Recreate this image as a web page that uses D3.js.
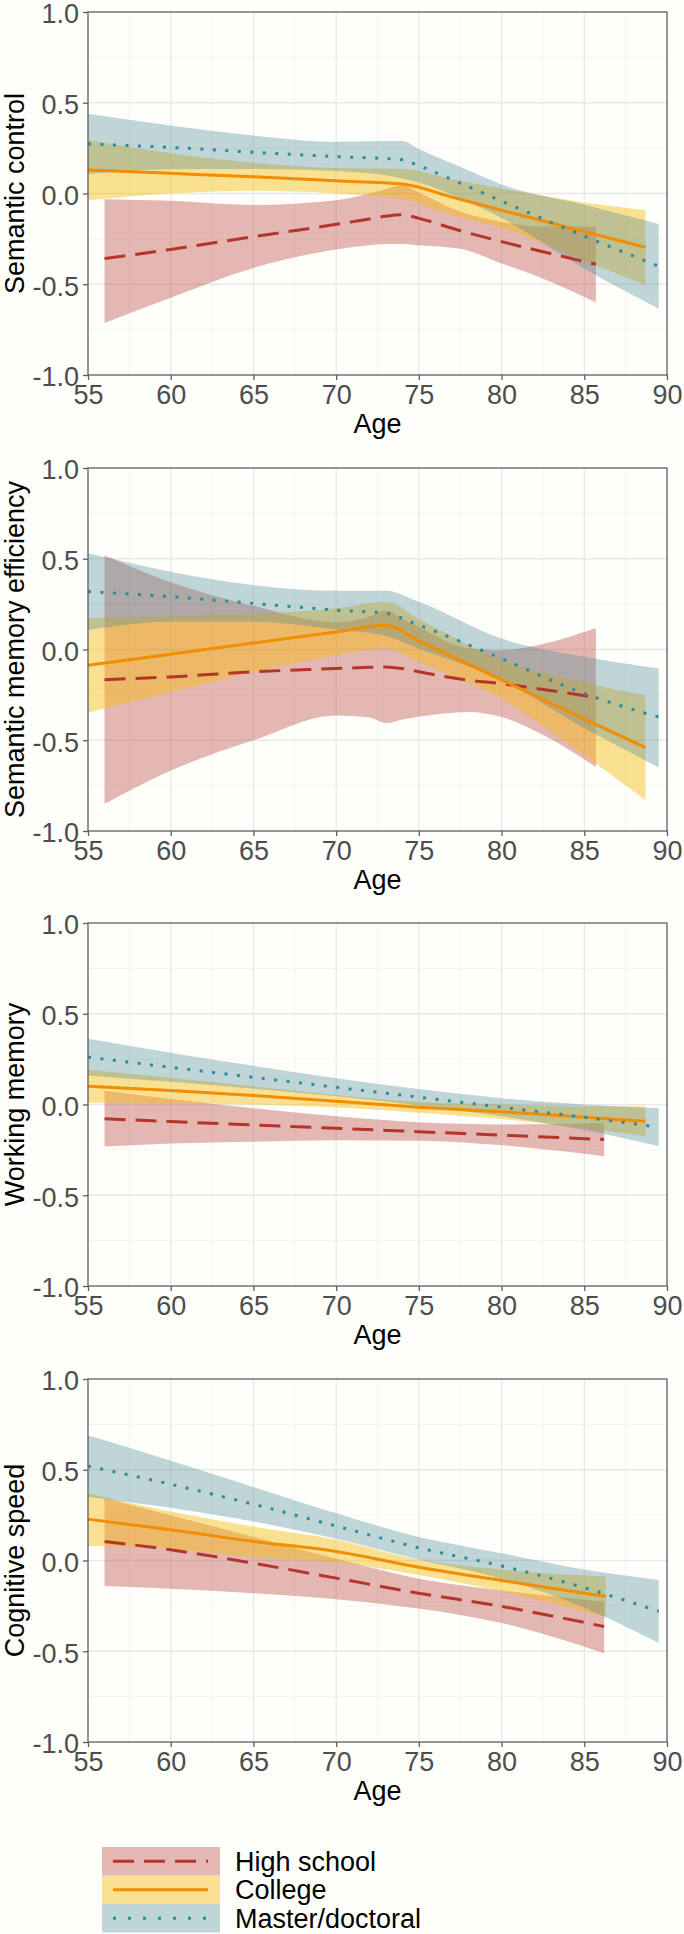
<!DOCTYPE html>
<html><head><meta charset="utf-8">
<script src="https://cdn.jsdelivr.net/npm/d3@7"></script>
<style>
body{margin:0;background:#fefefb;}
svg{display:block;font-family:"Liberation Sans",Arial,sans-serif;}
</style>
</head><body><svg id="c" width="684" height="1934"></svg>
<script>
// ---------------- data ----------------
const panelTitles = ["Semantic control","Semantic memory efficiency","Working memory","Cognitive speed"];
const groups = ["High school","College","Master/doctoral"];
const xTicks = [55,60,65,70,75,80,85,90];
const yTicks = [-1.0,-0.5,0.0,0.5,1.0];
// rows: [age, fitted, lower CI, upper CI]
const scHigh = [[56,-0.359,-0.713,-0.031],[60,-0.308,-0.574,-0.04],[65,-0.238,-0.41,-0.063],[70,-0.17,-0.308,-0.037],[72,-0.14,-0.285,0.0],[73,-0.125,-0.278,0.025],[74,-0.117,-0.278,0.045],[75,-0.137,-0.285,0.005],[77.5,-0.205,-0.305,-0.1],[80,-0.265,-0.385,-0.155],[82,-0.31,-0.45,-0.18],[85.7,-0.39,-0.60,-0.183]];
const scCollege = [[55,0.129,-0.037,0.295],[60,0.111,0.0,0.222],[65,0.092,0.015,0.17],[70,0.07,0.0,0.14],[74,0.052,-0.03,0.135],[77,-0.02,-0.12,0.08],[80,-0.092,-0.19,0.028],[85,-0.21,-0.37,-0.05],[88.7,-0.297,-0.504,-0.091]];
const scMaster = [[55,0.273,0.107,0.439],[60,0.254,0.134,0.374],[65,0.227,0.135,0.319],[70,0.203,0.124,0.285],[74,0.186,0.083,0.289],[75,0.153,0.06,0.245],[77.8,0.045,-0.04,0.135],[80,-0.042,-0.135,0.05],[85,-0.235,-0.415,-0.062],[89.5,-0.40,-0.635,-0.168]];

const smHigh = [[56,-0.166,-0.851,0.519],[60,-0.151,-0.667,0.37],[65,-0.123,-0.5,0.24],[70,-0.105,-0.363,0.15],[72,-0.098,-0.375,0.18],[73,-0.096,-0.405,0.215],[74,-0.105,-0.385,0.17],[75,-0.123,-0.37,0.124],[78,-0.169,-0.344,0.006],[80,-0.188,-0.372,-0.004],[82.5,-0.22,-0.47,0.03],[85.7,-0.265,-0.648,0.118]];
const smCollege = [[55,-0.087,-0.347,0.173],[60,-0.026,-0.236,0.184],[65,0.036,-0.124,0.196],[70,0.097,-0.033,0.227],[73,0.134,0.005,0.263],[75,0.048,-0.072,0.168],[80,-0.167,-0.272,-0.057],[85,-0.382,-0.582,-0.182],[88.7,-0.541,-0.831,-0.252]];
const smMaster = [[55,0.319,0.108,0.53],[60,0.291,0.153,0.429],[65,0.254,0.153,0.355],[70,0.217,0.11,0.324],[73,0.199,0.074,0.324],[75,0.134,0.005,0.263],[80,-0.05,-0.17,0.06],[85,-0.243,-0.433,-0.04],[89.5,-0.372,-0.65,-0.105]];

const wmHigh = [[56,-0.079,-0.232,0.076],[60,-0.094,-0.215,0.03],[65,-0.113,-0.205,-0.02],[70,-0.131,-0.197,-0.065],[75,-0.15,-0.2,-0.098],[80,-0.169,-0.225,-0.11],[86.2,-0.193,-0.285,-0.1]];
const wmCollege = [[55,0.101,0.009,0.193],[60,0.077,0.007,0.147],[65,0.05,0.0,0.1],[70,0.018,-0.017,0.053],[75,-0.015,-0.045,0.015],[80,-0.04,-0.08,0.0],[85,-0.07,-0.13,-0.01],[88.7,-0.092,-0.175,-0.009]];
const wmMaster = [[55,0.261,0.16,0.362],[60,0.205,0.125,0.285],[65,0.15,0.087,0.213],[70,0.095,0.045,0.145],[75,0.04,-0.005,0.085],[80,-0.015,-0.065,0.035],[85,-0.07,-0.14,0.0],[89.5,-0.125,-0.23,-0.02]];

const csHigh = [[56,0.105,-0.14,0.343],[60,0.059,-0.155,0.25],[65,-0.015,-0.18,0.13],[70,-0.097,-0.213,0.01],[75,-0.18,-0.265,-0.1],[80,-0.253,-0.345,-0.165],[86.2,-0.364,-0.511,-0.226]];
const csCollege = [[55,0.228,0.08,0.371],[60,0.169,0.065,0.27],[65,0.105,0.02,0.187],[70,0.05,-0.01,0.115],[75,-0.037,-0.08,0.005],[80,-0.11,-0.17,-0.05],[86.3,-0.198,-0.31,-0.088]];
const csMaster = [[55,0.52,0.35,0.69],[60,0.42,0.29,0.55],[65,0.31,0.215,0.405],[70,0.19,0.12,0.26],[75,0.07,0.005,0.13],[80,-0.03,-0.1,0.04],[85,-0.15,-0.26,-0.05],[89.5,-0.28,-0.455,-0.107]];

const panelData = [
  [scHigh, scCollege, scMaster],
  [smHigh, smCollege, smMaster],
  [wmHigh, wmCollege, wmMaster],
  [csHigh, csCollege, csMaster]
];

// ---------------- styles ----------------
const lineColors = ["#b5352b","#f28c00","#2b8a9b"];
const fillColors = ["rgba(178,55,42,0.35)","rgba(245,185,0,0.42)","rgba(78,138,150,0.35)"];
const dashes = ["21 10", null, "3 9.5"];

const svg = d3.select("#c");
svg.append("rect").attr("width",684).attr("height",1934).attr("fill","#fefefb");

const left = 88, right = 667, ph = 363;
const tops = [12, 468, 923, 1379];
const x = d3.scaleLinear().domain([55,90]).range([left,right]);
const fs = 27;

tops.forEach((top, pi) => {
  const y = d3.scaleLinear().domain([-1,1]).range([top+ph, top]);
  const g = svg.append("g");
  // minor grid
  [57.5,62.5,67.5,72.5,77.5,82.5,87.5].forEach(v=>{
    g.append("line").attr("x1",x(v)).attr("x2",x(v)).attr("y1",top).attr("y2",top+ph)
     .attr("stroke","#f3f3f1").attr("stroke-width",1);
  });
  [-0.75,-0.25,0.25,0.75].forEach(v=>{
    g.append("line").attr("x1",left).attr("x2",right).attr("y1",y(v)).attr("y2",y(v))
     .attr("stroke","#f3f3f1").attr("stroke-width",1);
  });
  // major grid
  xTicks.slice(1,-1).forEach(v=>{
    g.append("line").attr("x1",x(v)).attr("x2",x(v)).attr("y1",top).attr("y2",top+ph)
     .attr("stroke","#e8e8e6").attr("stroke-width",1.3);
  });
  yTicks.slice(1,-1).forEach(v=>{
    g.append("line").attr("x1",left).attr("x2",right).attr("y1",y(v)).attr("y2",y(v))
     .attr("stroke","#e8e8e6").attr("stroke-width",1.3);
  });

  const series = panelData[pi];
  const area = d3.area().x(d=>x(d[0])).y0(d=>y(d[2])).y1(d=>y(d[3])).curve(d3.curveMonotoneX);
  const line = d3.line().x(d=>x(d[0])).y(d=>y(d[1])).curve(d3.curveMonotoneX);
  series.forEach((s,i)=>{
    g.append("path").attr("d",area(s)).attr("fill",fillColors[i]).attr("stroke","none");
  });
  series.forEach((s,i)=>{
    const p = g.append("path").attr("d",line(s)).attr("fill","none")
      .attr("stroke",lineColors[i]).attr("stroke-width",3);
    if (dashes[i]) p.attr("stroke-dasharray",dashes[i]);
  });

  // border
  g.append("rect").attr("x",left).attr("y",top).attr("width",right-left).attr("height",ph)
    .attr("fill","none").attr("stroke","#5f5f5f").attr("stroke-width",1.3);

  // axes
  const ax = g.append("g").attr("transform",`translate(0,${top+ph})`)
    .call(d3.axisBottom(x).tickValues(xTicks).tickFormat(d=>String(d)).tickSize(5).tickPadding(5));
  const ay = g.append("g").attr("transform",`translate(${left},0)`)
    .call(d3.axisLeft(y).tickValues(yTicks).tickFormat(d=>d.toFixed(1)).tickSize(5).tickPadding(4));
  [ax,ay].forEach(a=>{
    a.select(".domain").remove();
    a.selectAll(".tick line").attr("stroke","#5f5f5f").attr("stroke-width",1.3);
    a.selectAll(".tick text").attr("fill","#4d4d4d").style("font-size",fs+"px")
      .style("font-family","'Liberation Sans',Arial,sans-serif");
  });
  ay.selectAll(".tick text").attr("dy","0.4em");

  // axis titles
  g.append("text").attr("x",(left+right)/2).attr("y",top+ph+58).attr("text-anchor","middle")
    .attr("fill","#000").style("font-size",fs+"px").text("Age");
  g.append("text").attr("transform",`translate(24,${top+ph/2}) rotate(-90)`).attr("text-anchor","middle")
    .attr("fill","#000").style("font-size",fs+"px").text(panelTitles[pi]);
});

// legend
const legTop = 1847, keyH = 28.5, keyX = 102, keyW = 118;
groups.forEach((name,i)=>{
  const yy = legTop + i*keyH;
  svg.append("rect").attr("x",keyX).attr("y",yy).attr("width",keyW).attr("height",keyH)
    .attr("fill",fillColors[i]);
  const l = svg.append("line").attr("x1",113).attr("x2",208).attr("y1",yy+keyH/2).attr("y2",yy+keyH/2)
    .attr("stroke",lineColors[i]).attr("stroke-width",3);
  if (dashes[i]) l.attr("stroke-dasharray", i===2 ? "3 12" : dashes[i]);
  svg.append("text").attr("x",235).attr("y",yy+keyH/2).attr("dy","0.36em")
    .attr("fill","#000").style("font-size",fs+"px").text(name);
});
</script>
</body></html>
